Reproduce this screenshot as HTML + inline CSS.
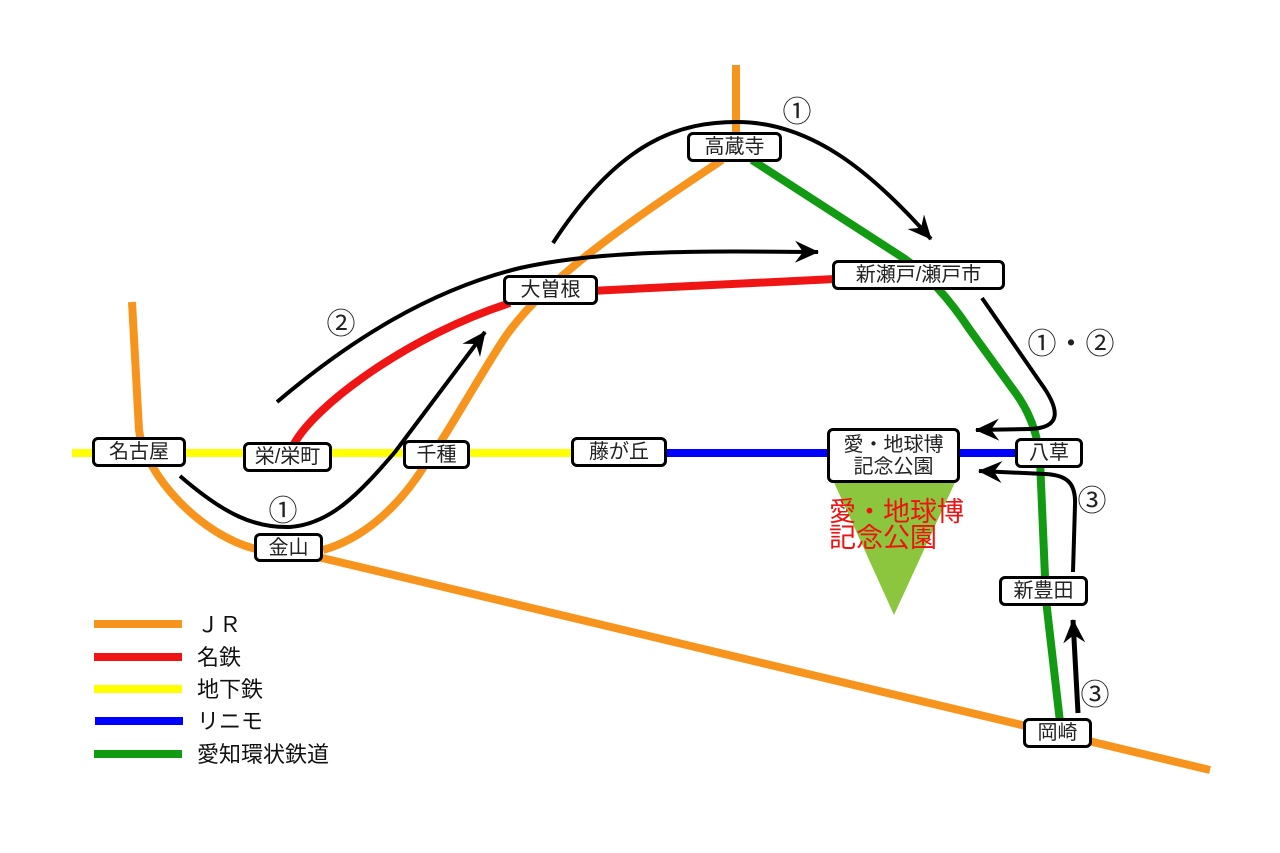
<!DOCTYPE html>
<html>
<head>
<meta charset="utf-8">
<style>
html,body{margin:0;padding:0;background:#fff;}
#wrap{position:relative;width:1280px;height:853px;overflow:hidden;background:#fff;font-family:"Liberation Sans","Noto Sans CJK JP",sans-serif;}
svg{position:absolute;left:0;top:0;}
.st{position:absolute;box-sizing:border-box;border:3px solid #000;border-radius:6px;background:#fff;display:flex;align-items:center;justify-content:center;font-size:20px;line-height:1;color:#222;white-space:nowrap;}
.st2{flex-direction:column;line-height:22px;}
.n{position:absolute;font-size:29px;line-height:1;color:#222;transform:translate(-50%,-50%);white-space:nowrap;}
.lg{position:absolute;font-size:22px;line-height:1;color:#111;left:197px;transform:translateY(-50%);white-space:nowrap;}
.red{position:absolute;left:829px;top:499px;font-size:27px;line-height:26px;color:#f01212;white-space:nowrap;}
</style>
</head>
<body>
<div id="wrap">
<svg width="1280" height="853" viewBox="0 0 1280 853">
  <defs>
    <marker id="ah" viewBox="-25 -13 27 26" markerWidth="27" markerHeight="26" refX="0" refY="0" orient="auto" markerUnits="userSpaceOnUse">
      <path d="M1,0 L-23,-11 L-15,0 L-23,11 Z" fill="#000"/>
    </marker>
  </defs>
  <!-- green triangle -->
  <polygon points="832,478 957,478 894,615" fill="#8cc63e"/>

  <!-- JR orange -->
  <g fill="none" stroke="#f7941d" stroke-width="8" stroke-linecap="butt">
    <line x1="736" y1="65" x2="736" y2="140"/>
    <path d="M722,160 C640,215 540,280 500,345 C470,392 450,430 425,465 C400,505 365,538 323,550"/>
    <path d="M132,302 L139,430 C145,475 200,535 256,549"/>
    <line x1="318" y1="557" x2="1210" y2="770"/>
  </g>
  <!-- Meitetsu red -->
  <g fill="none" stroke="#f01515" stroke-width="8">
    <path d="M294,444 C315,405 410,335 510,303"/>
    <line x1="590" y1="291" x2="835" y2="279"/>
  </g>
  <!-- subway yellow -->
  <line x1="72" y1="453" x2="575" y2="453" stroke="#ffff00" stroke-width="8"/>
  <!-- Linimo blue -->
  <line x1="660" y1="453" x2="1020" y2="453" stroke="#0000ff" stroke-width="8"/>
  <!-- Aichi loop green -->
  <path d="M752,160 L905,259 Q938,282 970,330 L1012,388 Q1037,420 1040,460 L1046,600 L1060,722" fill="none" stroke="#129a12" stroke-width="8"/>

  <!-- black arrows -->
  <g fill="none" stroke="#000" stroke-width="4">
    <path d="M553,243 C620,140 680,122 737,122 C810,122 870,170 931,239" marker-end="url(#ah)"/>
    <path d="M277,402 C350,340 430,290 520,268 C600,250 700,251 818,252" marker-end="url(#ah)"/>
    <path d="M180,476 C225,515 255,528 290,527 C330,524 358,495 395,452 L485,332" marker-end="url(#ah)"/>
    <path d="M982,298 L1040,382 C1062,412 1060,428 1030,429 L976,430" marker-end="url(#ah)"/>
    <path d="M1073,572 L1075,505 C1076,482 1066,475 1045,474 L979,471" marker-end="url(#ah)"/>
    <path d="M1078,713 L1073,620" stroke-width="5" marker-end="url(#ah)"/>
  </g>

  <!-- legend lines -->
  <g stroke-width="8">
    <line x1="94" y1="624" x2="182" y2="624" stroke="#f7941d"/>
    <line x1="94" y1="657" x2="182" y2="657" stroke="#f01515"/>
    <line x1="94" y1="689" x2="182" y2="689" stroke="#ffff00"/>
    <line x1="95" y1="721" x2="183" y2="721" stroke="#0000ff"/>
    <line x1="94" y1="754" x2="182" y2="754" stroke="#129a12"/>
  </g>
</svg>

<!-- stations -->
<div class="st" style="left:92px;top:437px;width:94px;height:30px;">名古屋</div>
<div class="st" style="left:243px;top:442px;width:89px;height:30px;">栄/栄町</div>
<div class="st" style="left:403px;top:440px;width:67px;height:29px;">千種</div>
<div class="st" style="left:254px;top:533px;width:69px;height:29px;">金山</div>
<div class="st" style="left:571px;top:437px;width:96px;height:30px;">藤が丘</div>
<div class="st" style="left:503px;top:275px;width:95px;height:30px;">大曽根</div>
<div class="st" style="left:687px;top:132px;width:95px;height:30px;">高蔵寺</div>
<div class="st" style="left:832px;top:260px;width:173px;height:30px;">新瀬戸/瀬戸市</div>
<div class="st st2" style="left:827px;top:428px;width:133px;height:55px;"><span>愛・地球博</span><span>記念公園</span></div>
<div class="st" style="left:1015px;top:438px;width:68px;height:30px;">八草</div>
<div class="st" style="left:999px;top:576px;width:89px;height:30px;">新豊田</div>
<div class="st" style="left:1023px;top:718px;width:69px;height:30px;">岡崎</div>

<!-- route numbers -->
<div class="n" style="left:797px;top:113px;">①</div>
<div class="n" style="left:341px;top:325px;">②</div>
<div class="n" style="left:283px;top:512px;">①</div>
<div class="n" style="left:1071px;top:345px;">①・②</div>
<div class="n" style="left:1092px;top:502px;">③</div>
<div class="n" style="left:1095px;top:696px;">③</div>

<!-- park label -->
<div class="red">愛・地球博<br>記念公園</div>

<!-- legend text -->
<div class="lg" style="top:625px;">ＪＲ</div>
<div class="lg" style="top:658px;">名鉄</div>
<div class="lg" style="top:690px;">地下鉄</div>
<div class="lg" style="top:722px;">リニモ</div>
<div class="lg" style="top:755px;">愛知環状鉄道</div>
</div>
</body>
</html>
